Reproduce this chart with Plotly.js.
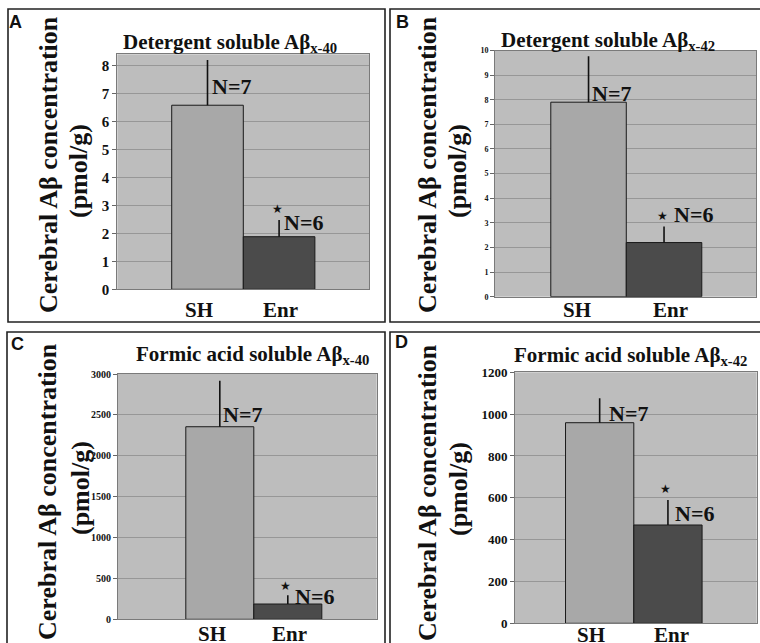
<!DOCTYPE html>
<html>
<head>
<meta charset="utf-8">
<script src="https://cdn.plot.ly/plotly-3.0.1.min.js"></script>
<style>html,body{margin:0;padding:0;background:#fff;}#chart{width:760px;height:643px;}</style>
</head>
<body>
<div id="chart"></div>
<script>
// ---- data ----
const groups = ['SH', 'Enr'];
const nLabels = ['N=7', 'N=6'];
const panelLetters = ['A', 'B', 'C', 'D'];
const panelTitles = ['Detergent soluble Aβ<sub>x-40</sub>', 'Detergent soluble Aβ<sub>x-42</sub>',
                     'Formic acid soluble Aβ<sub>x-40</sub>', 'Formic acid soluble Aβ<sub>x-42</sub>'];
const yTitleLines = ['Cerebral Aβ concentration', '(pmol/g)'];
const meanA = [6.58, 1.88];
const errA  = [1.62, 0.60];
const meanB = [7.9, 2.2];
const errB  = [1.87, 0.65];
const meanC = [2355, 187];
const errC  = [563, 106];
const meanD = [959, 470];
const errD  = [117, 120];
const starLabel = '★';

// ---- layout helpers ----
const W = 760, H = 643;
const fx = p => p / W;
const fy = p => 1 - p / H;
const SERIF = '"Liberation Serif", "Times New Roman", Times, serif';
const SANS = '"Liberation Sans", Arial, sans-serif';

const panels = [
  {mean: meanA, err: errA, px: [117.3, 369.3], py: [54.3, 289.3], xr: [-1.26, 2.26], yr: [0, 8.4], dtick: 1, tsize: 15,
   nY: [7.24, 2.4], nShift: [2, 3], starY: 2.88, box: [8, 9, 385, 322], letter: [15, 21.5],
   title: [229.5, 43], ytitle: [[48, 165], [79, 171]], catY: 309.5, catShift: [-8.5, 1]},
  {mean: meanB, err: errB, px: [495, 756], py: [50.5, 296.7], xr: [-1.239, 2.218], yr: [0, 10], dtick: 1, tsize: 8,
   nY: [8.25, 3.35], nShift: [1, 8], starY: 3.28, box: [390, 9, 780, 322], letter: [402, 21.5],
   title: [607.5, 41], ytitle: [[427, 165], [458, 171]], catY: 309.5, catShift: [-12, 6]},
  {mean: meanC, err: errC, px: [118, 376.7], py: [374, 619.3], xr: [-1.497, 2.307], yr: [0, 3000], dtick: 500, tsize: 10,
   nY: [2499, 285], nShift: [1, 5], starY: 411, box: [7, 332, 385, 670], letter: [17, 344],
   title: [252.5, 355], ytitle: [[47, 492], [80, 488]], catY: 634, catShift: [-8, 2]},
  {mean: meanD, err: errD, px: [515, 756.7], py: [372.3, 623.3], xr: [-1.24, 2.30], yr: [0, 1200], dtick: 200, tsize: 13,
   nY: [1003, 525], nShift: [7, 5], starY: 640, box: [390, 332, 780, 670], letter: [401, 342],
   title: [630, 356], ytitle: [[427, 493], [458, 489]], catY: 635, catShift: [-9, 4]}
];

const traces = [];
const layout = {
  width: W, height: H,
  margin: {l: 0, r: 0, t: 0, b: 0},
  paper_bgcolor: '#ffffff',
  plot_bgcolor: '#bdbdbd',
  showlegend: false,
  font: {family: SERIF},
  annotations: [], shapes: []
};

panels.forEach((p, i) => {
  const k = i === 0 ? '' : String(i + 1);
  const xa = 'x' + k, ya = 'y' + k;
  traces.push({
    type: 'bar', x: [0, 1], y: p.mean, width: [1, 1],
    xaxis: xa, yaxis: ya,
    marker: {color: ['#a8a8a8', '#4b4b4b'], line: {color: '#1a1a1a', width: 1}},
    error_y: {type: 'data', symmetric: false, array: p.err, arrayminus: [0, 0],
              width: 0, thickness: 1.6, color: '#111'},
    hoverinfo: 'skip'
  });
  layout['xaxis' + k] = {
    domain: [fx(p.px[0]), fx(p.px[1])], range: p.xr, anchor: ya,
    showgrid: false, zeroline: false, showticklabels: false, ticks: '',
    showline: true, mirror: true, linecolor: '#7a7a7a', linewidth: 1, fixedrange: true
  };
  layout['yaxis' + k] = {
    domain: [fy(p.py[1]), fy(p.py[0])], range: p.yr, anchor: xa, dtick: p.dtick,
    showgrid: true, gridcolor: '#979797', gridwidth: 1, zeroline: false,
    showline: true, mirror: true, linecolor: '#7a7a7a', linewidth: 1,
    ticks: 'outside', ticklen: 4, tickcolor: '#666', tickwidth: 1,
    tickfont: {family: SERIF, size: p.tsize, color: '#111', weight: 'bold'},
    fixedrange: true
  };
  // panel box
  layout.shapes.push({type: 'rect', xref: 'paper', yref: 'paper',
    x0: fx(p.box[0]), x1: fx(p.box[2]), y0: fy(p.box[3]), y1: fy(p.box[1]),
    line: {color: '#222', width: 1.6}, fillcolor: 'rgba(0,0,0,0)', layer: 'below'});
  // panel letter
  layout.annotations.push({xref: 'paper', yref: 'paper', x: fx(p.letter[0]), y: fy(p.letter[1]),
    xanchor: 'center', yanchor: 'middle', showarrow: false, text: panelLetters[i],
    font: {family: SANS, size: 18, color: '#111', weight: 'bold'}});
  // title
  layout.annotations.push({xref: 'paper', yref: 'paper', x: fx(p.title[0]), y: fy(p.title[1]),
    xanchor: 'center', yanchor: 'middle', showarrow: false, text: panelTitles[i],
    font: {family: SERIF, size: 21, color: '#111', weight: 'bold'}});
  // y title (two lines, placed separately)
  yTitleLines.forEach((t, j) => {
    layout.annotations.push({xref: 'paper', yref: 'paper', x: fx(p.ytitle[j][0]), y: fy(p.ytitle[j][1]),
      xanchor: 'center', yanchor: 'middle', showarrow: false, text: t, textangle: -90,
      font: {family: SERIF, size: 26, color: '#111', weight: 'bold'}});
  });
  // category labels and N labels
  groups.forEach((g, j) => {
    layout.annotations.push({xref: xa, yref: 'paper', x: j, y: fy(p.catY), xshift: p.catShift[j],
      xanchor: 'center', yanchor: 'middle', showarrow: false, text: g,
      font: {family: SERIF, size: 21, color: '#111', weight: 'bold'}});
    layout.annotations.push({xref: xa, yref: ya, x: j, y: p.nY[j], xshift: p.nShift[j],
      xanchor: 'left', yanchor: 'middle', showarrow: false, text: nLabels[j],
      font: {family: SERIF, size: 22, color: '#111', weight: 'bold'}});
  });
  // significance star
  layout.annotations.push({xref: xa, yref: ya, x: 1, y: p.starY, xshift: -2,
    xanchor: 'center', yanchor: 'middle', showarrow: false, text: starLabel,
    font: {family: '"DejaVu Sans", sans-serif', size: 12, color: '#111'}});
});

Plotly.newPlot('chart', traces, layout, {staticPlot: true, displayModeBar: false});
</script>
</body>
</html>
